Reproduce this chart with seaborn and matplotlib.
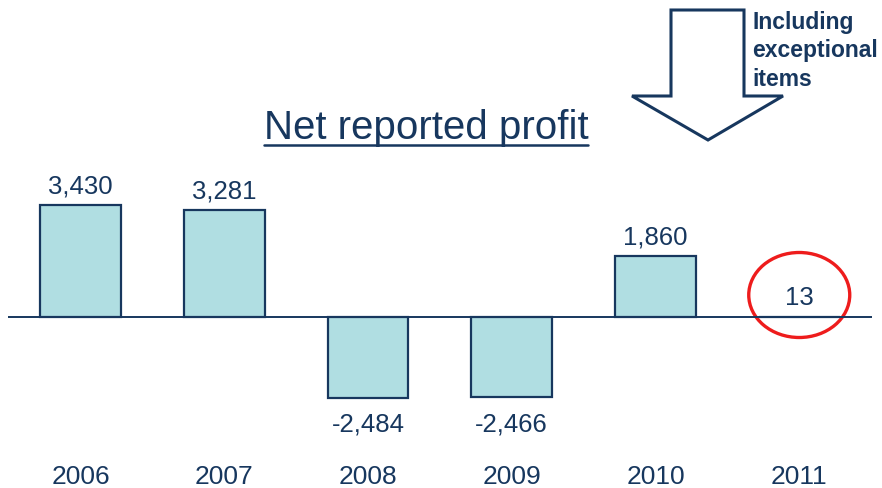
import matplotlib
matplotlib.use("Agg")
import matplotlib.pyplot as plt
from matplotlib.patches import Ellipse, Polygon
from matplotlib.lines import Line2D
import seaborn as sns
import pandas as pd

years = ["2006", "2007", "2008", "2009", "2010", "2011"]
profit = [3430, 3281, -2484, -2466, 1860, 13]
value_labels = ["3,430", "3,281", "-2,484", "-2,466", "1,860", "13"]
title = "Net reported profit"
note = "Including\nexceptional\nitems"

navy = "#17375E"
fill = "#B0DEE2"
red = "#EE1C1C"

sns.set_theme(style="white")
plt.rcParams["font.family"] = ["Liberation Sans", "DejaVu Sans"]

W, H = 882, 488
fig = plt.figure(figsize=(W / 100, H / 100), dpi=100)
ax = fig.add_axes([0, 0, 1, 1])

df = pd.DataFrame({"year": years, "profit": profit})
sns.barplot(data=df, x="year", y="profit", ax=ax, color=fill, saturation=1,
            width=0.563, edgecolor=navy, linewidth=1.6, errorbar=None)

# pixel-to-data mapping: bar pitch 143.75 px, 0.0326 px per unit, baseline at y=317
pitch, scale, base_px, first_px = 143.75, 0.0326, 317, 80.5
ax.set_xlim((0 - first_px) / pitch, (W - first_px) / pitch)
ax.set_ylim(-(H - base_px) / scale, base_px / scale)
ax.axis("off")

# baseline
ax.plot([8 / W, 872 / W], [0, 0], color=navy, lw=1.4,
        transform=ax.get_yaxis_transform(), solid_capstyle="butt")

# value labels
for i, (v, lab) in enumerate(zip(profit, value_labels)):
    if v >= 0:
        off = 12
    else:
        off = -(abs(v) * scale + 34)
    y = v if v >= 0 else 0
    ax.annotate(lab, xy=(i, y), xytext=(0, off), textcoords="offset pixels",
                ha="center", va="baseline", fontsize=18.5, color=navy)

# year labels under the chart
for i, yr in enumerate(years):
    ax.text(i, 1 - 484 / H, yr, transform=ax.get_xaxis_transform(),
            ha="center", va="baseline", fontsize=19, color=navy)

# red ring around the last value
ax.add_patch(Ellipse((5, (base_px - 295) / scale), width=101 / pitch,
                     height=85 / scale, fill=False, edgecolor=red, lw=2.4))

# title with underline
t = fig.text(426 / W, 1 - 139 / H, title, ha="center", va="baseline",
             fontsize=29, color=navy)
fig.canvas.draw()
bb = t.get_window_extent()
uy = 1 - 145 / H
fig.add_artist(Line2D([bb.x0 / W, bb.x1 / W], [uy, uy], color=navy, lw=1.8,
                      transform=fig.transFigure))

# outlined down arrow
pts = [(671, 10), (744, 10), (744, 96), (783, 96), (708, 140), (632, 96), (671, 96)]
fig.add_artist(Polygon([(x / W, 1 - y / H) for x, y in pts], closed=True,
                       fill=False, edgecolor=navy, lw=2.2, joinstyle="miter",
                       transform=fig.transFigure))

fig.text(752 / W, 1 - 11 / H, note, ha="left", va="top", fontsize=16.5,
         fontweight="bold", color=navy, linespacing=1.3)

fig.savefig("out.png", dpi=100)
